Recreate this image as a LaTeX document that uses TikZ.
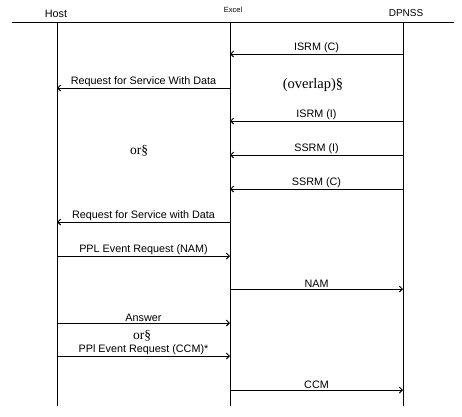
\documentclass[tikz,border=0pt]{standalone}
\usepackage{fontspec}
\setmainfont{Liberation Serif}
\setsansfont{Liberation Sans}
\usetikzlibrary{arrows.meta}

\newcommand\msgsize{\sffamily\fontsize{10.8}{13}\selectfont}
\newcommand\headsize{\sffamily\fontsize{10}{12}\selectfont}
\newcommand\notesize{\rmfamily\fontsize{13.5}{15}\selectfont}

\begin{document}
\begin{tikzpicture}[
  x=1pt, y=-1pt,
  life/.style={line width=0.9pt},
  msg/.style={font=\msgsize, inner sep=1pt},
  note/.style={font=\notesize, inner sep=0pt},
  arr/.style={-{Straight Barb[length=3pt,width=6pt]}, line width=0.9pt}
]
\useasboundingbox (0,0) rectangle (462,416);

% lifeline heads
\node[font=\sffamily\fontsize{10.8}{12}\selectfont, inner sep=0pt] (host) at (56,13.5) {Host};
\node[font=\sffamily\fontsize{7.5}{8}\selectfont, inner sep=0pt] (excel) at (233,10) {Excel};
\node[font=\headsize, inner sep=0pt] (dpnss) at (406,13.5) {DPNSS};

\coordinate (topl) at (12,22);
\coordinate (topr) at (454,22);
\draw[life] (topl) -- (topr);

% points on the three lifelines
\foreach \y in {22,54,88,121,155,189,222,256,289,323,356,390,406} {
  \coordinate (h\y) at (57,\y);
  \coordinate (e\y) at (230,\y);
  \coordinate (d\y) at (403,\y);
}
\draw[life] (h22) -- (h406);
\draw[life] (e22) -- (e406);
\draw[life] (d22) -- (d406);

% messages
\draw[arr] (d54) -- node[msg, above] {ISRM (C)} (e54);
\draw[arr] (e88) -- node[msg, above] {Request for Service With Data} (h88);
\draw[arr] (d121) -- node[msg, above] {ISRM (I)} (e121);
\draw[arr] (d155) -- node[msg, above] {SSRM (I)} (e155);
\draw[arr] (d189) -- node[msg, above] {SSRM (C)} (e189);
\draw[arr] (e222) -- node[msg, above] {Request for Service with Data} (h222);
\draw[arr] (h256) -- node[msg, above] {PPL Event Request (NAM)} (e256);
\draw[arr] (e289) -- node[msg, above] {NAM} (d289);
\draw[arr] (h323) -- node[msg, above] {Answer} (e323);
\draw[arr] (h356) -- node[msg, above] {PPl Event Request (CCM)*} (e356);
\draw[arr] (e390) -- node[msg, above] {CCM} (d390);

% notes
\node[note, font=\rmfamily\fontsize{14.5}{16}\selectfont] (overlap) at (313,85) {(overlap)§};
\node[note] (or1) at (139,151) {or§};
\node[note] (or2) at (142,336) {or§};
\end{tikzpicture}
\end{document}
